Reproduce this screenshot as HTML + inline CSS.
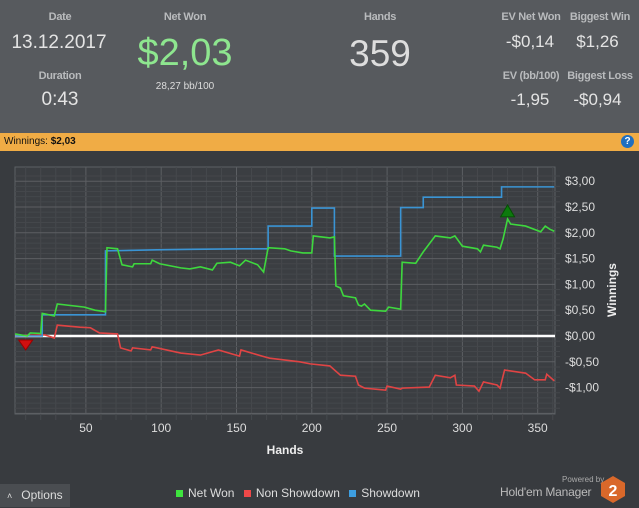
<!DOCTYPE html>
<html><head><meta charset="utf-8"><style>
body{margin:0;width:639px;height:507px;overflow:hidden;background:#383b3f;font-family:"Liberation Sans",sans-serif;position:relative}
.hdr{position:absolute;left:0;top:0;width:639px;height:133px;background:#575a5e}
.t{position:absolute;text-align:center;color:#b9bbbd;font-size:11px;font-weight:bold;white-space:nowrap;letter-spacing:-0.3px}
.v{position:absolute;text-align:center;color:#e4e4e4;white-space:nowrap}
.bar{position:absolute;left:0;top:133px;width:639px;height:18px;background:#f0ac45;font-size:10px;color:#111;line-height:18px}
</style></head><body>
<div class="hdr">
<div class="t" style="left:20px;width:80px;top:11px">Date</div>
<div class="v" style="left:0;width:118px;top:32px;font-size:19px">13.12.2017</div>
<div class="t" style="left:20px;width:80px;top:70px">Duration</div>
<div class="v" style="left:20px;width:80px;top:89px;font-size:19px">0:43</div>
<div class="t" style="left:140px;width:90px;top:11px">Net Won</div>
<div class="v" style="left:120px;width:130px;top:32px;font-size:38px;color:#8ee68f">$2,03</div>
<div class="v" style="left:130px;width:110px;top:81px;font-size:10px;color:#ddd">28,27 bb/100</div>
<div class="t" style="left:340px;width:80px;top:11px">Hands</div>
<div class="v" style="left:330px;width:100px;top:33px;font-size:37px;color:#ddd">359</div>
<div class="t" style="left:496px;width:70px;top:11px">EV Net Won</div>
<div class="v" style="left:490px;width:80px;top:32px;font-size:17px">-$0,14</div>
<div class="t" style="left:566px;width:68px;top:11px">Biggest Win</div>
<div class="v" style="left:560px;width:75px;top:32px;font-size:17px">$1,26</div>
<div class="t" style="left:496px;width:70px;top:70px">EV (bb/100)</div>
<div class="v" style="left:490px;width:80px;top:90px;font-size:17px">-1,95</div>
<div class="t" style="left:564px;width:72px;top:70px">Biggest Loss</div>
<div class="v" style="left:560px;width:75px;top:90px;font-size:17px">-$0,94</div>
</div>
<div class="bar"><span style="margin-left:4px">Winnings: <b>$2,03</b></span>
<span style="position:absolute;right:5px;top:2px;width:13px;height:13px;border-radius:50%;background:#1f6fc0;color:#fff;font-size:10px;font-weight:bold;line-height:13px;text-align:center">?</span></div>
<svg id="chart" width="639" height="356" style="position:absolute;left:0;top:151px"></svg>
<div style="position:absolute;left:0;top:484px;width:70px;height:23px;background:#4a4d51;color:#ddd;font-size:12px;line-height:23px"><span style="margin-left:7px;font-size:9px">˄</span><span style="margin-left:9px">Options</span></div>
<div style="position:absolute;left:176px;top:486px;font-size:12px;color:#ddd;white-space:nowrap">
<span><span style="display:inline-block;width:7px;height:7px;background:#3ee43e;margin-right:5px"></span>Net Won</span>
<span style="margin-left:6px"><span style="display:inline-block;width:7px;height:7px;background:#ee4848;margin-right:5px"></span>Non Showdown</span>
<span style="margin-left:6px"><span style="display:inline-block;width:7px;height:7px;background:#3d9ee0;margin-right:5px"></span>Showdown</span>
</div>
<div style="position:absolute;left:562px;top:475px;font-size:8px;color:#aaa">Powered by</div>
<div style="position:absolute;left:500px;top:485px;font-size:12px;color:#bbb;letter-spacing:-0.2px">Hold'em Manager</div>
<svg style="position:absolute;left:601px;top:476px" width="24" height="27"><polygon points="12,0 24,7 24,20 12,27 0,20 0,7" fill="#d9682a"/><text x="12" y="20" text-anchor="middle" font-family="Liberation Sans" font-weight="bold" font-size="16" fill="#fff">2</text></svg>
<script>
const sdHands=[3,21,21,63,63,97,121,154,171,171,200,200,215,215,259,259,274,274,326,326,361];
const sdVals=[0,0,0.41,0.41,1.65,1.67,1.68,1.69,1.69,2.13,2.13,2.48,2.48,1.55,1.55,2.49,2.49,2.69,2.69,2.89,2.89];
const netHands=[3,11,13,20,21,29,31,49,56,63,64,71,74,81,82,93,94,99,113,119,126,134,137,146,152,156,164,168,171,182,186,194,200,201,212,215,216,219,221,229,231,233,235,239,249,251,259,260,269,274,282,292,295,300,310,312,314,323,325,327,330,332,342,352,355,358,361];
const netVals=[0.04,0.0,0.06,0.05,0.44,0.39,0.62,0.56,0.5,0.47,1.71,1.69,1.38,1.34,1.40,1.40,1.47,1.40,1.32,1.30,1.34,1.28,1.41,1.43,1.36,1.47,1.38,1.24,1.71,1.69,1.65,1.61,1.61,1.94,1.90,1.92,0.97,0.93,0.78,0.74,0.60,0.58,0.62,0.50,0.48,0.56,0.52,1.43,1.41,1.63,1.94,1.90,1.94,1.74,1.69,1.63,1.76,1.72,1.69,1.88,2.27,2.17,2.13,2.02,2.13,2.07,2.03];
const nsdHands=[3,21,23,29,31,46,53,59,71,73,80,81,93,94,113,126,138,152,153,167,172,192,199,212,219,229,231,235,249,250,259,260,278,282,292,295,296,308,311,314,323,325,328,342,348,355,356,361];
const nsdVals=[0,0.02,0.02,-0.04,0.21,0.17,0.16,0.06,0.04,-0.23,-0.29,-0.23,-0.27,-0.21,-0.33,-0.37,-0.27,-0.39,-0.27,-0.39,-0.43,-0.50,-0.54,-0.58,-0.76,-0.78,-0.95,-1.01,-1.05,-0.97,-1.03,-1.01,-0.99,-0.76,-0.81,-0.76,-0.95,-0.97,-1.07,-0.89,-0.95,-1.01,-0.66,-0.72,-0.85,-0.85,-0.74,-0.87];
const xTicks=[50,100,150,200,250,300,350];
const yTicks=[3,2.5,2,1.5,1,0.5,0,-0.5,-1];
const yLabels=["$3,00","$2,50","$2,00","$1,50","$1,00","$0,50","$0,00","-$0,50","-$1,00"];
const OY=151;
const L=15,R=555,T=167-OY,B=414-OY;
const X=h=>10.6+h*1.506;
const Y=v=>(336-OY)-v*51.6;
const svg=document.getElementById('chart');
const NS='http://www.w3.org/2000/svg';
function mk(tag,attrs){const e=document.createElementNS(NS,tag);for(const k in attrs)e.setAttribute(k,attrs[k]);svg.appendChild(e);return e;}
const bg=mk('rect',{x:L,y:T,width:R-L,height:B-T,fill:'#3b3e42',stroke:'#5d6064'});


for(let h=10;h<=360;h+=10){const x=X(h);if(x<L||x>R)continue;const g=mk('line',{x1:x,x2:x,y1:T,y2:B+(h%50==0?0:6),stroke:h%50==0?'#5c5f63':'#46494d','stroke-width':1});

}
for(let v=-1.5;v<=3.2;v+=0.1){const vv=Math.round(v*10)/10;const y=Y(vv);if(y<T||y>B)continue;const major=Math.abs(vv*2-Math.round(vv*2))<1e-6;const g=mk('line',{x1:L,x2:R+(major?0:5),y1:y,y2:y,stroke:major?'#5c5f63':'#44474b','stroke-width':1});

}
xTicks.forEach(t=>{const e=mk('text',{x:X(t),y:B+18,fill:'#ddd','font-size':12,'text-anchor':'middle','font-family':'Liberation Sans'});e.textContent=t;

});
yTicks.forEach((t,i)=>{const e=mk('text',{x:R+10,y:Y(t)+4,fill:'#ddd','font-size':12,'font-family':'Liberation Sans'});e.textContent=yLabels[i];

});
const z=mk('line',{x1:L,x2:R,y1:Y(0),y2:Y(0),stroke:'#fff','stroke-width':2.5});


function series(hs,vs,col,name){const p=mk('polyline',{points:hs.map((h,i)=>X(h)+','+Y(vs[i])).join(' '),fill:'none',stroke:col,'stroke-width':1.6});

}
series(nsdHands,nsdVals,'#e04444','non-showdown-line');
series(sdHands,sdVals,'#3a94d4','showdown-line');
series(netHands,netVals,'#3ed83e','net-won-line');
let mi=0,ma=0;netVals.forEach((v,i)=>{if(v<netVals[mi])mi=i;if(v>netVals[ma])ma=i;});
const lx=X(10),ly=Y(0)+4;
const lo=mk('polygon',{points:`${lx-7},${ly} ${lx+7},${ly} ${lx},${ly+10}`,fill:'#d01010',stroke:'#900','stroke-width':1});


const hx=X(netHands[ma]),hy=Y(netVals[ma])-2;
const hi=mk('polygon',{points:`${hx-7},${hy} ${hx+7},${hy} ${hx},${hy-12}`,fill:'#0d7a0d',stroke:'#064d06','stroke-width':1});


const xt=mk('text',{x:285,y:303,fill:'#eee','font-size':12,'font-weight':'bold','text-anchor':'middle','font-family':'Liberation Sans'});xt.textContent='Hands';


const yt=mk('text',{x:0,y:0,fill:'#eee','font-size':12,'font-weight':'bold','text-anchor':'middle','font-family':'Liberation Sans',transform:'translate(616,139) rotate(-90)'});yt.textContent='Winnings';


</script>
</body></html>
